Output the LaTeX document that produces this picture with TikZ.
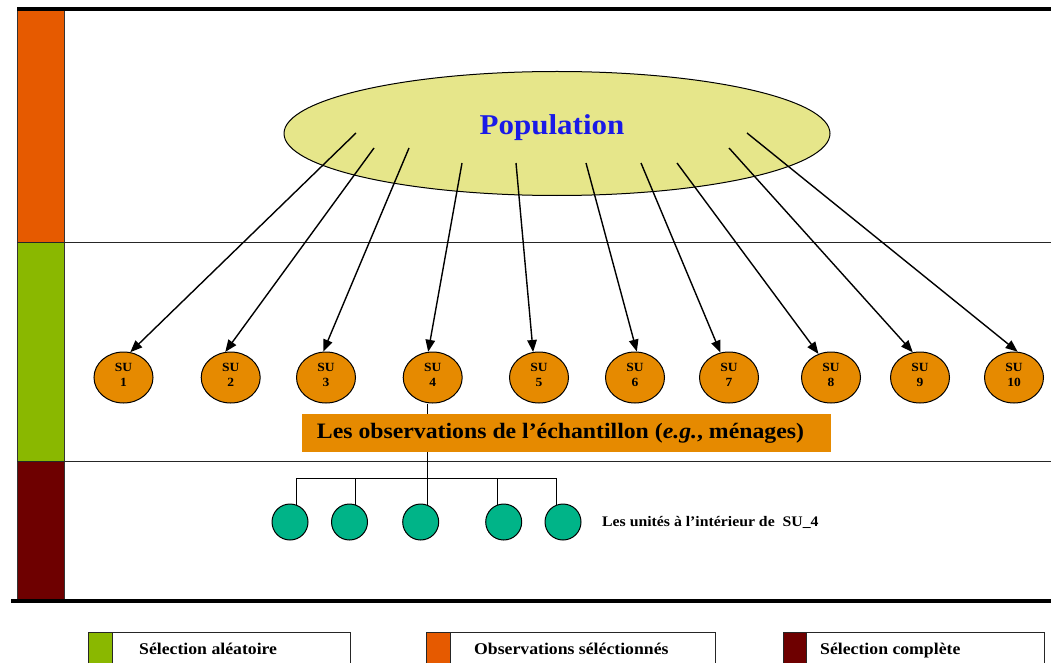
\documentclass[tikz,border=0pt]{standalone}
\usepackage{fontspec}
\setmainfont{Liberation Serif}[FakeStretch=1.08]
\usetikzlibrary{shapes.geometric,arrows.meta}
\definecolor{barOrange}{HTML}{E65A00}
\definecolor{barGreen}{HTML}{8AB800}
\definecolor{barRed}{HTML}{6E0000}
\definecolor{suFill}{HTML}{E68A00}
\definecolor{popFill}{HTML}{E6E68A}
\definecolor{unitFill}{HTML}{00B488}
\definecolor{popBlue}{HTML}{1A1AE6}
\tikzset{
  band/.style={draw=black!80, line width=0.8pt},
  sep/.style={draw=black!85, line width=1pt},
  thick rule/.style={draw=black, line width=3.5pt},
  popell/.style={ellipse, draw=black, line width=1pt, fill=popFill, minimum width=546pt, minimum height=124pt, inner sep=0pt},
  poptxt/.style={font=\fontsize{28.7}{34}\selectfont\bfseries, text=popBlue, inner sep=0pt},
  su/.style={ellipse, draw=black, line width=1pt, fill=suFill, minimum width=59pt, minimum height=51pt, inner sep=0pt},
  sutxt/.style={inner sep=0pt, align=center, font=\fontsize{12.5}{15}\selectfont\bfseries},
  unit/.style={circle, draw=black, line width=1pt, fill=unitFill, minimum size=36pt, inner sep=0pt},
  arr/.style={line width=1.4pt, -{Triangle[length=12pt,width=9.5pt]}},
  conn/.style={line width=1pt},
  obsbox/.style={fill=suFill, minimum width=529pt, minimum height=38pt, inner sep=0pt, font=\fontsize{22}{26}\selectfont\bfseries},
  unitlbl/.style={anchor=west, inner sep=0pt, font=\fontsize{14.6}{17}\selectfont\bfseries},
  legbox/.style={draw=black!85, line width=1pt},
  leglbl/.style={anchor=base west, inner sep=0pt, font=\fontsize{16.4}{19}\selectfont\bfseries}
}
\begin{document}
\begin{tikzpicture}[x=1pt, y=-1pt]
\clip (0,0) rectangle (1051,663);
\fill[white] (0,0) rectangle (1051,663);

% left bands
\fill[barOrange] (17,9) rectangle (64,242);
\fill[barGreen] (17,242) rectangle (64,461);
\fill[barRed] (17,461) rectangle (64,601);
\draw[band] (17,9) -- (17,601);
\draw[band] (64,9) -- (64,601);
\draw[sep] (17,242) -- (1051,242);
\draw[sep] (17,461) -- (1051,461);
\draw[thick rule] (17,9) -- (1051,9);
\draw[thick rule] (11,601) -- (1051,601);

% population
\node[popell] (pop) at (557,133.5) {};
\node[poptxt] (poptext) at (552,128) {Population};

% sampling units
\foreach \i/\x in {1/123.5,2/230.7,3/326,4/432.7,5/539,6/635,7/729,8/831,9/920,10/1014} {
  \node[su] (su\i) at (\x,377.5) {};
  \node[sutxt] (sut\i) at ([yshift=2.8pt]su\i.center) {SU\\\i};
}

% arrow starts inside the population ellipse
\coordinate (s1) at (356,133);
\coordinate (s2) at (374,148);
\coordinate (s3) at (409,148);
\coordinate (s4) at (462,163);
\coordinate (s5) at (516,163);
\coordinate (s6) at (586,163);
\coordinate (s7) at (641,163);
\coordinate (s8) at (677,163);
\coordinate (s9) at (729,148);
\coordinate (s10) at (747,133);
\foreach \i/\a in {1/75,2/102,3/96,4/100,5/103,6/86,7/109,8/118,9/106,10/82} {
  \draw[arr] (s\i) -- (su\i.\a);
}

% units within SU_4
\node[unit] (u1) at (290,522) {};
\node[unit] (u2) at (349.5,522) {};
\node[unit] (u3) at (420.7,522) {};
\node[unit] (u4) at (503.7,522) {};
\node[unit] (u5) at (563,522) {};
\coordinate (bus) at (0,478);
\draw[conn] (u3.70) -- (u3.70 |- su4.south);
\draw[conn] (u1.70) -- (u1.70 |- bus) -- (u5.110 |- bus) -- (u5.110);
\draw[conn] (u2.70) -- (u2.70 |- bus);
\draw[conn] (u4.110) -- (u4.110 |- bus);

\node[obsbox] (obs) at (566.5,433) {Les observations de l’échantillon (\textit{e.g.}, ménages)\hspace{12pt}\mbox{}};
\node[unitlbl] (ulbl) at (602,522) {Les unités à l’intérieur de\ \ SU\_4};

% legend
\draw[legbox] (88,632) rectangle (350,675);
\fill[barGreen] (88.5,632.5) rectangle (112,675);
\draw[legbox] (112,632) -- (112,675);
\node[leglbl] (leg1) at (139,654) {Sélection aléatoire};

\draw[legbox] (426,632) rectangle (715,675);
\fill[barOrange] (426.5,632.5) rectangle (450,675);
\draw[legbox] (450,632) -- (450,675);
\node[leglbl] (leg2) at (474,654) {Observations séléctionnés};

\draw[legbox] (783,632) rectangle (1044,675);
\fill[barRed] (783.5,632.5) rectangle (806,675);
\draw[legbox] (806,632) -- (806,675);
\node[leglbl] (leg3) at (820,654) {Sélection complète};
\end{tikzpicture}
\end{document}
